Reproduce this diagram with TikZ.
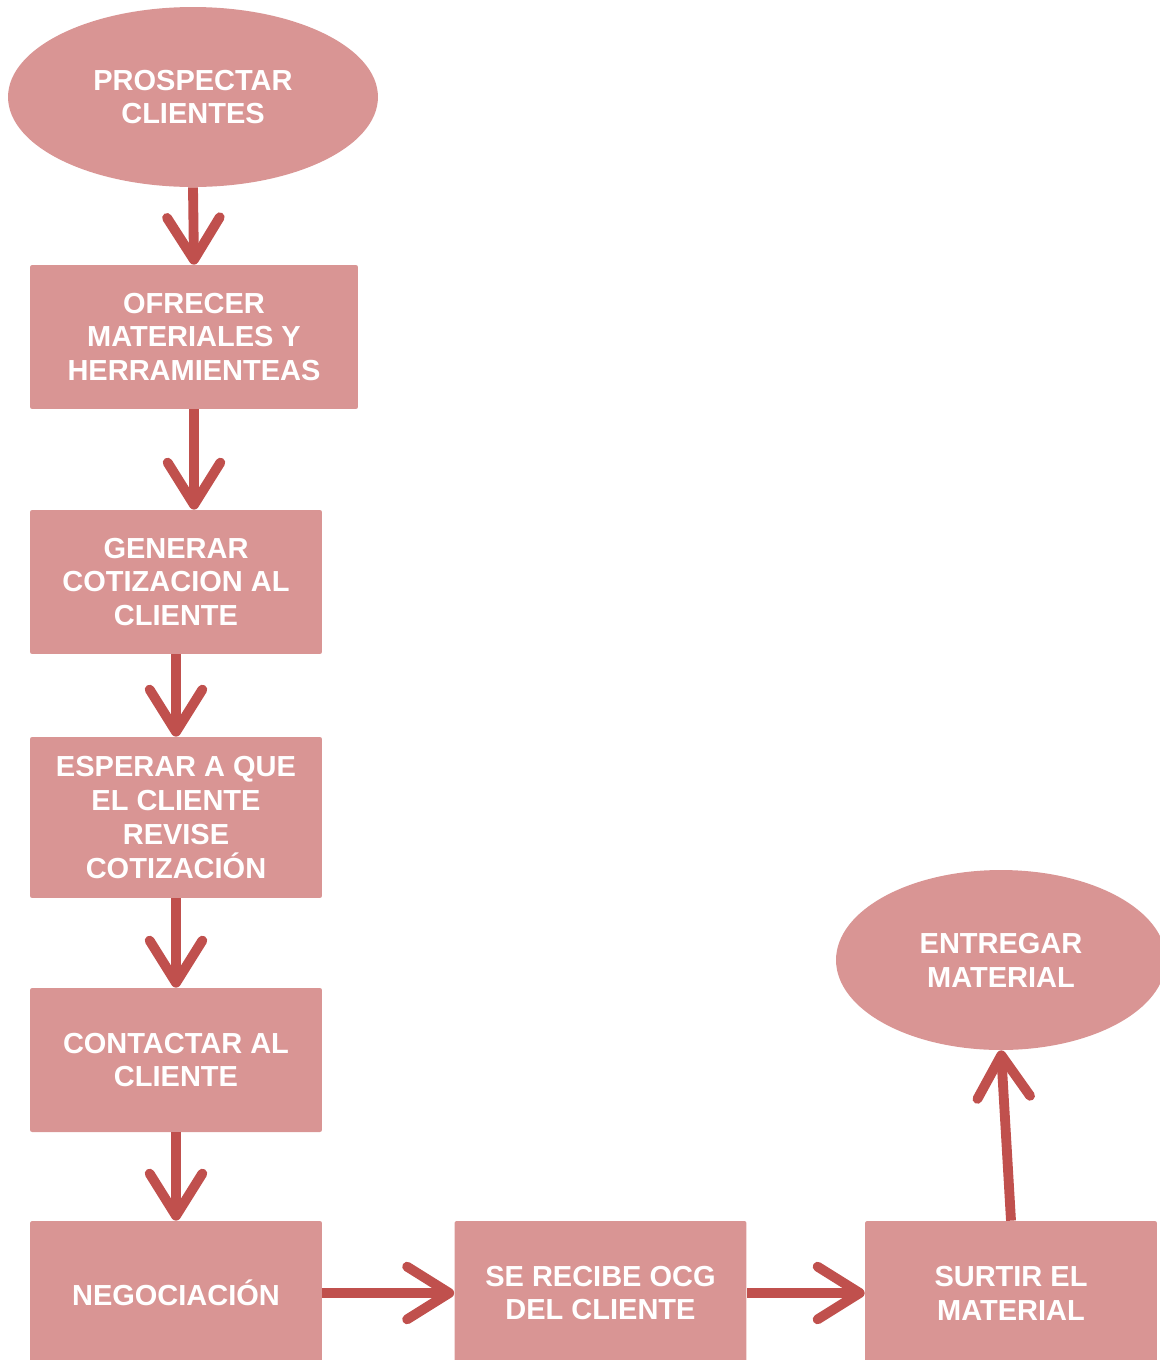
\documentclass[tikz,border=0pt]{standalone}
\usepackage{fontspec}
\setmainfont{Liberation Sans}
\usetikzlibrary{shapes.geometric,arrows.meta}

\definecolor{boxfill}{HTML}{D99594}
\definecolor{arrowred}{HTML}{C0504D}

\tikzset{
  paso/.style={rectangle, rounded corners=1.2pt, fill=boxfill, inner sep=0pt,
    text=white, align=center, minimum height=2.88cm, minimum width=5.84cm,
    font=\fontsize{16.5}{19.3}\selectfont\bfseries},
  extremo/.style={paso, ellipse, rounded corners=0pt},
  flecha/.style={draw=arrowred, line width=5.6pt,
    -{Straight Barb[length=24pt,width=30pt,round]}},
}

\begin{document}
\begin{tikzpicture}[x=0.02cm, y=-0.02cm]
  \useasboundingbox (0,0) rectangle (1160,1360);
  \clip (0,0) rectangle (1160,1360);

  % start and end
  \node[extremo, minimum width=7.4cm, minimum height=3.6cm] (prospectar) at (193,97) {PROSPECTAR\\CLIENTES};
  \node[extremo, minimum width=6.6cm, minimum height=3.6cm] (entregar) at (1001,960) {ENTREGAR\\MATERIAL};

  % steps
  \node[paso, minimum width=6.56cm] (ofrecer) at (194,337) {OFRECER\\MATERIALES Y\\HERRAMIENTEAS};
  \node[paso] (generar) at (176,582) {GENERAR\\COTIZACION AL\\CLIENTE};
  \node[paso, minimum height=3.22cm] (esperar) at (176,817.5) {ESPERAR A QUE\\EL CLIENTE\\REVISE\\COTIZACIÓN};
  \node[paso] (contactar) at (176,1060) {CONTACTAR AL\\CLIENTE};
  \node[paso] (negociacion) at (176,1293) {NEGOCIACIÓN};
  \node[paso] (ocg) at (600.5,1293) {SE RECIBE OCG\\DEL CLIENTE};
  \node[paso] (surtir) at (1011,1293) {SURTIR EL\\MATERIAL};

  % connectors
  \draw[flecha] (prospectar.south) -- (ofrecer.north);
  \draw[flecha] (ofrecer.south) -- (ofrecer.south |- generar.north);
  \draw[flecha] (generar.south) -- (esperar.north);
  \draw[flecha] (esperar.south) -- (contactar.north);
  \draw[flecha] (contactar.south) -- (negociacion.north);
  \draw[flecha] (negociacion.east) -- (ocg.west);
  \draw[flecha] (ocg.east) -- (surtir.west);
  \draw[flecha] (surtir.north) -- (entregar.south);
\end{tikzpicture}
\end{document}
